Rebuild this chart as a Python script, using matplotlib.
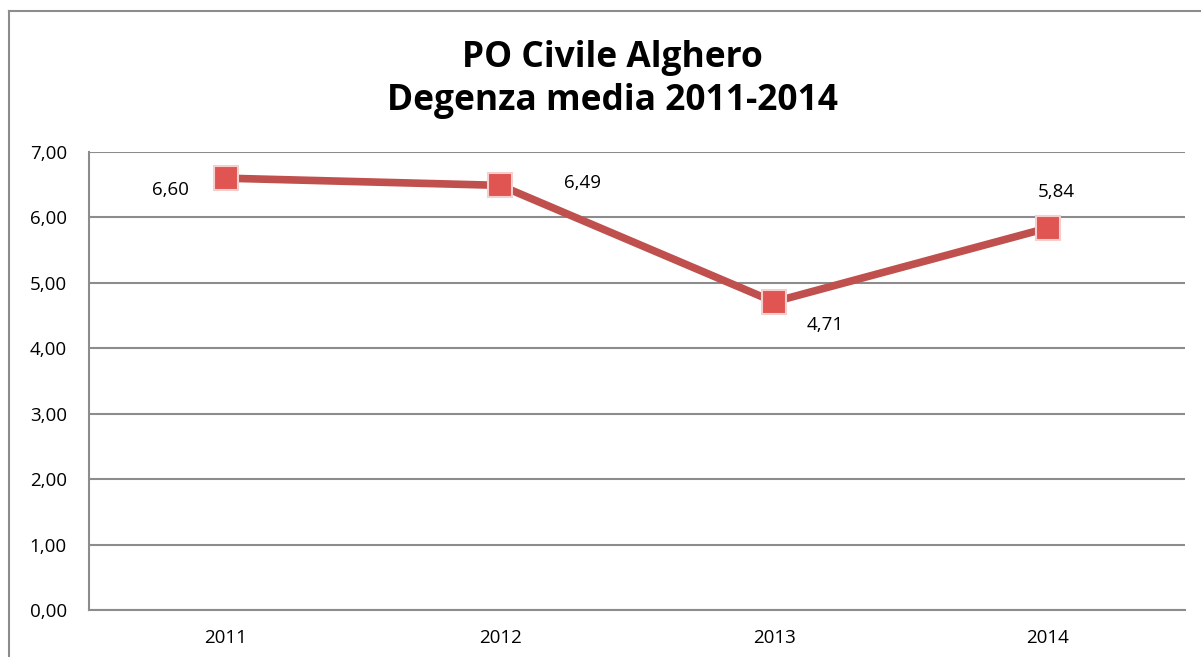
import matplotlib
matplotlib.use("Agg")
import matplotlib.pyplot as plt
from matplotlib.lines import Line2D

years = ["2011", "2012", "2013", "2014"]
values = [6.60, 6.49, 4.71, 5.84]
labels = ["6,60", "6,49", "4,71", "5,84"]
yticks = [0, 1, 2, 3, 4, 5, 6, 7]

plt.rcParams['font.family'] = ['Open Sans', 'DejaVu Sans']

W, H = 1201, 657
fig = plt.figure(figsize=(W / 100, H / 100), dpi=100)
ax = fig.add_axes([89 / W, 1 - 610 / H, (1185 - 89) / W, (610 - 152) / H])

x = list(range(len(years)))
ax.plot(x, values, color="#c0504d", lw=5.5, solid_capstyle="round", zorder=3)
ax.plot(x, values, ls="none", marker="s", markersize=17, markerfacecolor="#e05552",
        markeredgecolor="#f4cfcd", markeredgewidth=1.5, zorder=4)

ax.set_xlim(-0.5, 3.5)
ax.set_ylim(0, 7)
ax.set_yticks(yticks)
ax.set_yticklabels([f"{v:.2f}".replace(".", ",") for v in yticks], fontsize=13.5)
ax.set_xticks(x)
ax.set_xticklabels(years, fontsize=13.5)
ax.tick_params(axis="x", length=0, pad=14)
ax.tick_params(axis="y", length=0, pad=16)
ax.yaxis.grid(True, color="#8c8c8c", lw=1.5)
ax.set_axisbelow(True)
for s in ["top", "right"]:
    ax.spines[s].set_visible(False)
for s in ["left", "bottom"]:
    ax.spines[s].set_color("#8c8c8c")
    ax.spines[s].set_linewidth(1.5)

# offsets in pixels (converted to points)
offsets = [(-56, -12), (82, 2), (51, -23), (8, 36)]
for xi, v, lab, (dx, dy) in zip(x, values, labels, offsets):
    ax.annotate(lab, (xi, v), xytext=(dx * 0.72, dy * 0.72), textcoords="offset points",
                ha="center", va="center", fontsize=13.5, color="black")

fig.text(612 / W, 1 - 58 / H, "PO Civile Alghero", ha="center", va="center",
         fontsize=25.5, fontweight="bold")
fig.text(612 / W, 1 - 101 / H, "Degenza media 2011-2014", ha="center", va="center",
         fontsize=25.5, fontweight="bold")

# outer chart border
fig.add_artist(Line2D([9 / W, 9 / W], [0, 1 - 11 / H], transform=fig.transFigure,
                      color="#8c8c8c", lw=1.5))
fig.add_artist(Line2D([9 / W, 1], [1 - 11 / H, 1 - 11 / H], transform=fig.transFigure,
                      color="#8c8c8c", lw=1.5))

fig.savefig("out.png", dpi=100)
